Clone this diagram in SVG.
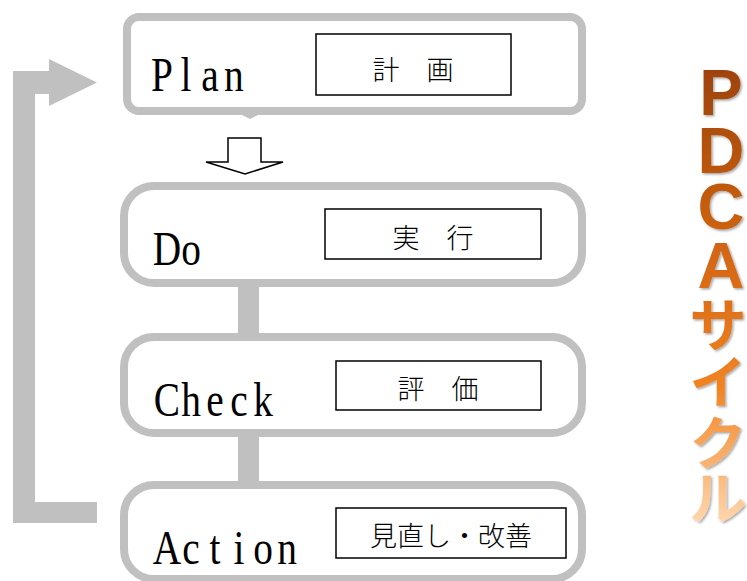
<svg xmlns="http://www.w3.org/2000/svg" width="747" height="581" viewBox="0 0 747 581">
<style>
.box{fill:#fff;stroke:#c0c0c0;stroke-width:8}
.lab{fill:#fff;stroke:#000;stroke-width:1.5}
.main{font-family:"Liberation Serif",serif;font-size:48px;fill:#000;text-anchor:middle}
.jp{font-family:"Noto Sans CJK JP",sans-serif;font-size:27px;font-weight:300;fill:#000;text-anchor:middle}
.conn{fill:#c0c0c0}
.ttl{fill:url(#og);filter:url(#sh);text-anchor:middle}
.pd{font-family:"Liberation Sans",sans-serif;font-weight:bold;font-size:65px}
.kt{font-family:"Noto Sans CJK JP",sans-serif;font-weight:bold;font-size:57px}
</style>
<defs>
<linearGradient id="og" gradientUnits="userSpaceOnUse" x1="0" y1="65" x2="0" y2="525">
<stop offset="0" stop-color="#9c4208"/>
<stop offset="0.45" stop-color="#d86a14"/>
<stop offset="0.7" stop-color="#f08424"/>
<stop offset="1" stop-color="#ffd8b0"/>
</linearGradient>
<filter id="sh" x="-20%" y="-5%" width="140%" height="110%">
<feDropShadow dx="1.5" dy="1.5" stdDeviation="1" flood-color="#000" flood-opacity="0.35"/>
</filter>
</defs>
<g id="connectors">
<rect class="conn" x="238" y="283" width="21" height="54"/>
<rect class="conn" x="238" y="433" width="21" height="52"/>
<path class="conn" d="M13,71 L49,71 L49,59 L97,82.5 L49,106 L49,94 L35,94 L35,502 L97,502 L97,523 L13,523 Z"/>
<polygon points="228,138 261,138 261,162 283,162 245,174 206,162 228,162" fill="#fff" stroke="#000" stroke-width="1.5"/>
</g>
<g id="plan">
<rect class="box" x="127" y="17" width="455" height="94" rx="12"/>
<polygon points="240,114 260,114 250,119" fill="#c0c0c0"/>
<text class="main" transform="translate(150 0) scale(0.82 1)" x="14.6 43.9 73.2 102.4" y="91">Plan</text>
<rect class="lab" x="316" y="34" width="195" height="61"/>
<text class="jp" x="413" y="80">計　画</text>
</g>
<g id="do">
<rect class="box" x="124" y="186" width="458" height="97" rx="30"/>
<text class="main" transform="translate(155 0) scale(0.82 1)" x="14.6 43.9" y="265">Do</text>
<rect class="lab" x="325" y="209" width="216" height="50"/>
<text class="jp" x="433" y="248">実　行</text>
</g>
<g id="check">
<rect class="box" x="124" y="337" width="458" height="96" rx="30"/>
<text class="main" transform="translate(155 0) scale(0.82 1)" x="14.6 43.9 73.2 102.4 131.7" y="416">Check</text>
<rect class="lab" x="336" y="361" width="205" height="49"/>
<text class="jp" x="438" y="399">評　価</text>
</g>
<g id="action">
<rect class="box" x="124" y="485" width="458" height="94" rx="30"/>
<text class="main" transform="translate(155 0) scale(0.82 1)" x="14.6 43.9 73.2 102.4 131.7 161" y="564">Action</text>
<rect class="lab" x="336" y="508" width="230" height="50"/>
<text class="jp" x="451" y="546">見直し・改善</text>
</g>
<g id="title">
<text class="ttl"><tspan class="pd" x="721 721 721 721" y="115 173 229 288">PDCA</tspan><tspan class="kt" x="718 718 718 718" y="346 403 464 519">サイクル</tspan></text>
</g>
</svg>
